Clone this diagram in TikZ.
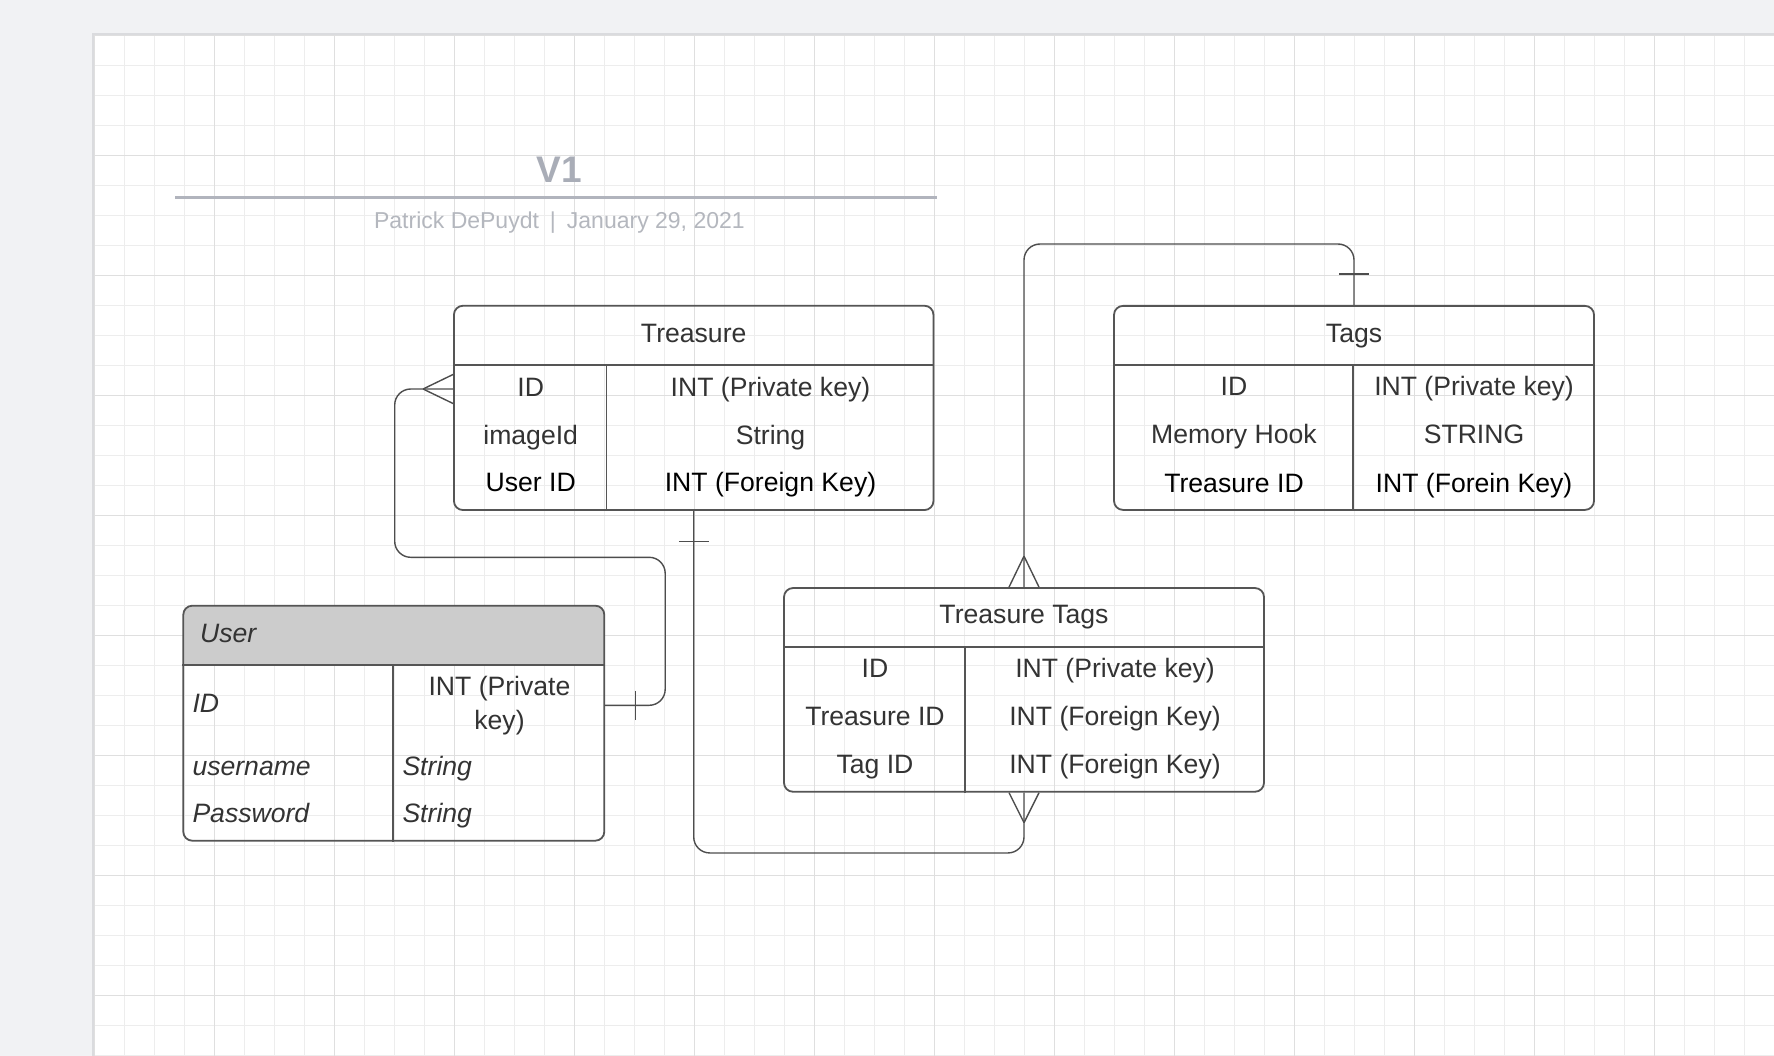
\documentclass[tikz,border=0pt]{standalone}
\usepackage{fontspec}
\setmainfont{Liberation Sans}
\usepackage{tikz}
\usetikzlibrary{calc}
\definecolor{pagegray}{HTML}{F1F2F4}
\definecolor{shadowgray}{HTML}{DADBDE}
\definecolor{gridminor}{HTML}{EDEDED}
\definecolor{gridmajor}{HTML}{DFDFDF}
\definecolor{titlegray}{HTML}{A9ADB7}
\definecolor{rulegray}{HTML}{B1B4BD}
\definecolor{subgray}{HTML}{B4B7BE}
\definecolor{boxgray}{HTML}{555555}
\definecolor{linkgray}{HTML}{4D4D4D}
\definecolor{textgray}{HTML}{333333}
\definecolor{hdrgray}{HTML}{CCCCCC}

\begin{document}
\begin{tikzpicture}[
  x=1pt, y=-1pt,
  cell/.style={font=\fontsize{26.6}{32}\selectfont, text=textgray,
               inner sep=0pt, text height=19pt, text depth=5pt},
  celll/.style={cell, anchor=west, font=\fontsize{26.6}{32}\selectfont\itshape},
  table/.style={draw=boxgray, line width=1.8pt, rounded corners=9pt,
                inner sep=0pt},
  rule/.style={draw=boxgray, line width=1.8pt},
  link/.style={draw=linkgray, line width=1.4pt, rounded corners=16pt},
  crow/.style={draw=linkgray, line width=1.4pt}
]
\useasboundingbox (0,0) rectangle (1774,1056);
\fill[pagegray] (0,0) rectangle (1774,1056);
\fill[shadowgray] (91.8,32.8) rectangle (1774,1056);
\fill[white] (94.3,35.3) rectangle (1774,1056);
\foreach \i in {0,...,56}
  \draw[gridminor, line width=1pt] (94.3+30*\i,35.3) -- (94.3+30*\i,1056);
\foreach \j in {0,...,34}
  \draw[gridminor, line width=1pt] (94.3,35.3+30*\j) -- (1774,35.3+30*\j);
\foreach \i in {0,...,14}
  \draw[gridmajor, line width=1.2pt] (94.3+120*\i,35.3) -- (94.3+120*\i,1056);
\foreach \j in {0,...,8}
  \draw[gridmajor, line width=1.2pt] (94.3,35.3+120*\j) -- (1774,35.3+120*\j);

\node[font=\fontsize{37}{40}\selectfont\bfseries, text=titlegray, anchor=base]
  (v1) at (559,182.3) {V1};
\draw[rulegray, line width=3pt] (175,197.5) -- (937,197.5);
\node[font=\fontsize{23}{27}\selectfont, text=subgray, anchor=base]
  (byline) at (559.4,228.3) {Patrick DePuydt\hspace{11pt}|\hspace{11pt}January 29, 2021};

% tables
\node[table, minimum width=479.5pt, minimum height=204.3pt] (treasure) at (693.7,407.9) {};
\node[table, minimum width=480pt, minimum height=204pt] (tags) at (1354,407.9) {};
\node[table, minimum width=480pt, minimum height=203.7pt] (ttags) at (1024,689.9) {};
\fill[hdrgray, rounded corners=9pt] (393.8,605.7) ++(-210.5,0) rectangle ++(421,60);
\fill[hdrgray] (183.3,640) rectangle (604.3,665.7);
\node[table, minimum width=421pt, minimum height=235pt] (user) at (393.8,723.2) {};

\draw[rule] ([yshift=-60pt]treasure.north west) -- ([yshift=-60pt]treasure.north east);
\draw[rule] ([xshift=153.5pt,yshift=-60pt]treasure.north west) -- ([xshift=153.5pt]treasure.south west);
\draw[rule] ([yshift=-60pt]tags.north west) -- ([yshift=-60pt]tags.north east);
\draw[rule] ([xshift=240pt,yshift=-60pt]tags.north west) -- ([xshift=240pt]tags.south west);
\draw[rule] ([yshift=-60pt]ttags.north west) -- ([yshift=-60pt]ttags.north east);
\draw[rule] ([xshift=182pt,yshift=-60pt]ttags.north west) -- ([xshift=182pt]ttags.south west);
\draw[rule] ([yshift=-60pt]user.north west) -- ([yshift=-60pt]user.north east);
\draw[rule] ([xshift=210.7pt,yshift=-60pt]user.north west) -- ([xshift=210.7pt]user.south west);

\node[cell] (tr-title) at (693.7,335.8) {Treasure};
\node[cell] (tr-id) at (530.7,389) {ID};
\node[cell] (tr-idt) at (770.5,389) {INT (Private key)};
\node[cell] (tr-img) at (530.7,437) {imageId};
\node[cell] (tr-imgt) at (770.5,437) {String};
\node[cell, text=black] (tr-uid) at (530.7,484.7) {User ID};
\node[cell, text=black] (tr-uidt) at (770.5,484.7) {INT (Foreign Key)};

\node[cell] (tg-title) at (1354,335.3) {Tags};
\node[cell] (tg-id) at (1234,388.8) {ID};
\node[cell] (tg-idt) at (1474,388.8) {INT (Private key)};
\node[cell] (tg-hook) at (1234,436.7) {Memory Hook};
\node[cell] (tg-hookt) at (1474,436.7) {STRING};
\node[cell, text=black] (tg-tid) at (1234,485) {Treasure ID};
\node[cell, text=black] (tg-tidt) at (1474,485) {INT (Forein Key)};

\node[cell] (tt-title) at (1024,616.7) {Treasure Tags};
\node[cell] (tt-id) at (875,670.7) {ID};
\node[cell] (tt-idt) at (1115,670.7) {INT (Private key)};
\node[cell] (tt-tid) at (875,718.7) {Treasure ID};
\node[cell] (tt-tidt) at (1115,718.7) {INT (Foreign Key)};
\node[cell] (tt-gid) at (875,766.7) {Tag ID};
\node[cell] (tt-gidt) at (1115,766.7) {INT (Foreign Key)};

\node[celll] (us-title) at (200,635.3) {User};
\node[celll] (us-id) at (192.3,705.3) {ID};
\node[font=\fontsize{26.6}{34}\selectfont, text=textgray, inner sep=0pt, align=center]
  (us-idt) at (499.5,705.8) {INT (Private\\key)};
\node[celll] (us-name) at (192.3,768.3) {username};
\node[celll] (us-namet) at (402.3,768.3) {String};
\node[celll] (us-pw) at (192.3,815.3) {Password};
\node[celll] (us-pwt) at (402.3,815.3) {String};

% relations
\coordinate (tr-in) at (treasure.west |- tr-id);
\coordinate (us-out) at (user.east |- us-id);
\draw[link] (us-out) -- ++(60,0) -- ++(0,-148) -- ++(-270.5,0) |- (tr-in);
\draw[crow] ([xshift=30pt,yshift=14.5pt]us-out) -- ([xshift=30pt,yshift=-14.5pt]us-out);
\draw[crow] ([xshift=-30pt]tr-in) -- ([yshift=14.5pt]tr-in)
            ([xshift=-30pt]tr-in) -- ([yshift=-14.5pt]tr-in);

\draw[link] (treasure.south) -- ++(0,342) -| (ttags.south);
\draw[crow] ([xshift=-14.8pt,yshift=-30.7pt]treasure.south) -- ([xshift=14.8pt,yshift=-30.7pt]treasure.south);
\draw[crow] ([yshift=-30pt]ttags.south) -- ([xshift=-15pt]ttags.south)
            ([yshift=-30pt]ttags.south) -- ([xshift=15pt]ttags.south);

\draw[link] (tags.north) -- ++(0,-61) -| (ttags.north);
\draw[crow] ([xshift=-14.8pt,yshift=31pt]tags.north) -- ([xshift=14.8pt,yshift=31pt]tags.north);
\draw[crow] ([yshift=31pt]ttags.north) -- ([xshift=-15pt]ttags.north)
            ([yshift=31pt]ttags.north) -- ([xshift=15pt]ttags.north);
\end{tikzpicture}
\end{document}
